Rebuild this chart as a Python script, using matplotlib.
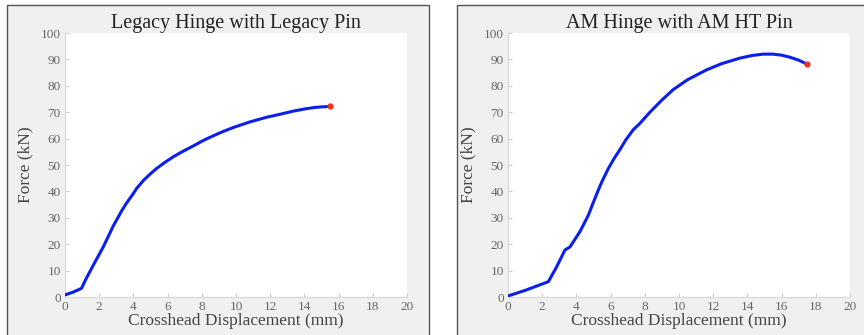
import numpy as np
import matplotlib
matplotlib.use('Agg')
import matplotlib.pyplot as plt
from matplotlib.patches import Rectangle

# Legacy hinge with legacy pin
legacy_disp = [0, 0.5, 0.97, 1.2, 1.66, 2.24, 2.83, 3.31, 3.6, 3.9, 4.2, 4.58, 5.0,
               5.36, 5.8, 6.33, 6.9, 7.5, 8.0, 8.48, 9.1, 9.84, 10.8, 11.8, 12.5,
               13.35, 14.0, 14.6, 15.0, 15.5]
legacy_force = [0.8, 1.9, 3.3, 6.5, 12.1, 19.0, 27.0, 32.6, 35.6, 38.3, 41.2, 44.1,
                46.7, 48.7, 50.8, 53.1, 55.2, 57.2, 59.0, 60.5, 62.3, 64.2, 66.3,
                68.1, 69.1, 70.4, 71.2, 71.8, 72.0, 72.2]

# AM hinge with AM HT pin
am_disp = [0, 1.0, 2.36, 2.85, 3.33, 3.63, 4.2, 4.45, 4.7, 5.0, 5.28, 5.5, 5.87,
           6.2, 6.55, 6.9, 7.33, 7.72, 8.3, 9.0, 9.67, 10.5, 11.6, 12.5, 13.57,
           14.3, 14.93, 15.5, 16.0, 16.5, 17.0, 17.46]
am_force = [0.4, 2.5, 5.8, 11.5, 17.8, 19.0, 24.7, 27.8, 31.0, 36.0, 40.5, 43.8,
            48.7, 52.4, 55.9, 59.6, 63.4, 65.8, 70.0, 74.6, 78.6, 82.3, 86.0,
            88.4, 90.5, 91.5, 92.0, 92.0, 91.6, 90.8, 89.7, 88.3]

titles = ['Legacy Hinge with Legacy Pin', 'AM Hinge with AM HT Pin']
xticks = list(range(0, 21, 2))
yticks = list(range(0, 101, 10))

plt.rcParams['font.family'] = ['Liberation Serif', 'DejaVu Serif']

fig = plt.figure(figsize=(8.64, 3.35), dpi=100)
W, H = 864, 335

# grey panel frames
for x0, x1 in [(7, 429), (457, 868)]:
    fig.patches.append(Rectangle((x0 / W, -0.05), (x1 - x0) / W, (335 - 5) / H + 0.05,
                                 transform=fig.transFigure, facecolor='#f0f0f0',
                                 edgecolor='#555555', linewidth=1.0, zorder=-5))

data = [(legacy_disp, legacy_force), (am_disp, am_force)]
lefts = [65, 508]
for i, (xs, ys) in enumerate(data):
    ax = fig.add_axes([lefts[i] / W, 1 - 297 / H, 342 / W, 264 / H])
    ax.set_zorder(2)
    ax.set_facecolor('white')
    ax.plot(xs, ys, color='#0a1ef0', linewidth=2.2, solid_capstyle='round',
            solid_joinstyle='round', zorder=3)
    ax.plot(xs[-1], ys[-1], 'o', color='#f03020', markersize=3.5, zorder=4)
    ax.set_xlim(0, 20)
    ax.set_ylim(0, 100)
    ax.set_xticks(xticks)
    ax.set_yticks(yticks)
    for s in ['top', 'right']:
        ax.spines[s].set_visible(False)
    for s in ['left', 'bottom']:
        ax.spines[s].set_color('#d8d8d8')
        ax.spines[s].set_linewidth(0.8)
    ax.tick_params(direction='in', length=3, width=0.6, color='#c0c0c0',
                   labelsize=9.5, labelcolor='#666666', pad=3)
    ax.set_title(titles[i], fontsize=14.5, color='#222222', pad=3)
    ax.set_xlabel('Crosshead Displacement (mm)', fontsize=12.5, color='#444444', labelpad=0)
    ax.set_ylabel('Force (kN)', fontsize=12.5, color='#444444', labelpad=5)

fig.savefig('out.png', dpi=100)
